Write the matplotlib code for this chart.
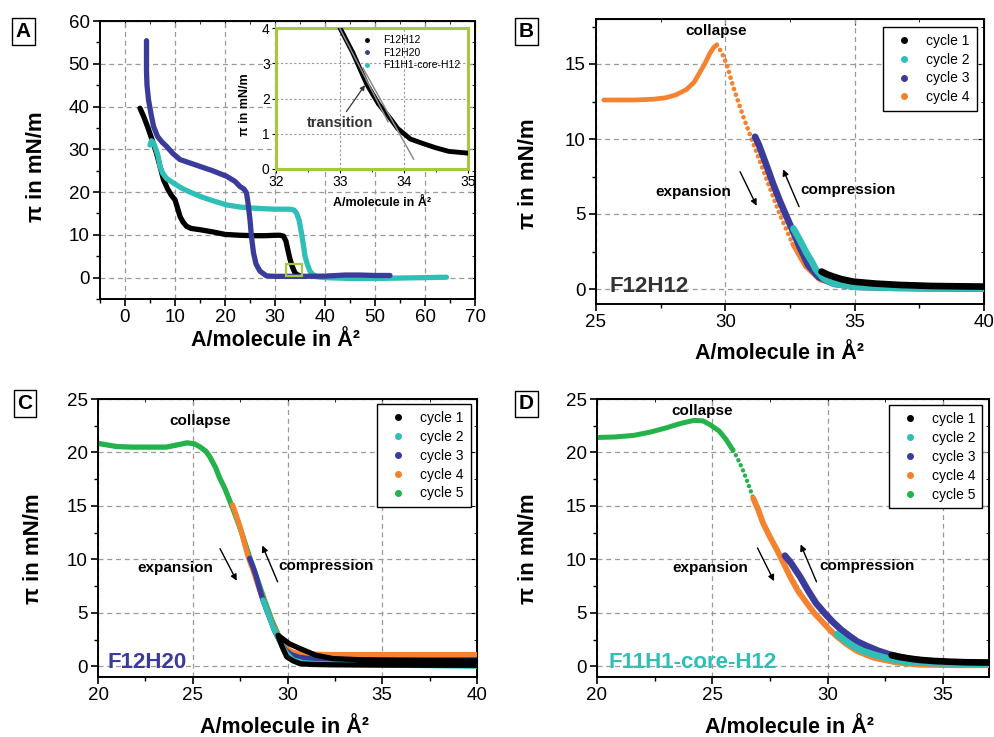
import numpy as np
import matplotlib
matplotlib.use("Agg")
import matplotlib.pyplot as plt
from matplotlib.lines import Line2D
from matplotlib.patches import Rectangle
from matplotlib.ticker import MultipleLocator

plt.rcParams['font.family'] = ['Liberation Sans', 'DejaVu Sans']

BLACK = '#000000'
TURQ = '#2fbfb7'
BLUE = '#3b3b9b'
ORANGE = '#f5822f'
GREEN = '#24b24b'
FRAME = '#a4c93c'

# ---- panel A: isotherms of the three compounds ----
a_f12h12_x = [3.0, 3.8, 4.6, 5.4, 6.3, 7.0, 7.7, 8.5, 9.3, 10.0, 10.5, 11.0, 11.6, 12.3, 13.2, 15.0,
              17.5, 20.0, 23.0, 26.0, 28.0, 30.0, 31.0, 31.7, 32.2, 32.7, 33.0, 33.4, 33.7, 34.0,
              34.3, 34.7, 35.0]
a_f12h12_y = [39.6, 37.5, 35.0, 32.3, 29.1, 26.0, 22.9, 20.8, 19.2, 18.2, 16.3, 14.3, 13.0, 12.0, 11.5,
              11.2, 10.7, 10.1, 9.9, 9.8, 9.8, 9.9, 9.9, 9.7, 8.5, 5.8, 4.3, 2.8, 1.9, 1.1, 0.8, 0.55, 0.45]
a_f12h20_x = [4.3, 4.3, 4.4, 4.7, 5.2, 5.7, 6.5, 7.4, 8.3, 9.6, 11.0, 13.0, 15.0, 17.5, 20.3, 22.0,
              23.0, 23.8, 24.3, 24.6, 25.0, 25.3, 25.7, 26.2, 27.0, 28.3, 30.0, 35.0, 40.0, 44.0,
              47.0, 50.0, 53.0]
a_f12h20_y = [55.4, 48.2, 45.0, 41.6, 38.3, 35.4, 33.0, 31.7, 30.7, 29.0, 27.6, 26.8, 26.0, 25.0, 23.7,
              22.5, 21.3, 20.7, 19.8, 17.5, 13.5, 9.5, 5.8, 3.2, 1.5, 0.4, 0.3, 0.3, 0.35, 0.6, 0.6,
              0.5, 0.5]
a_core_x = [5.0, 5.3, 5.7, 6.2, 6.6, 7.0, 7.5, 8.3, 9.7, 11.5, 13.0, 15.0, 17.5, 20.3, 23.0, 25.0,
            28.0, 30.0, 33.0, 33.8, 34.3, 34.8, 35.3, 35.7, 36.0, 36.5, 37.0, 37.6, 38.3, 40.0,
            45.0, 50.0, 55.0, 60.0, 64.3]
a_core_y = [31.0, 32.0, 31.5, 30.0, 28.5, 26.0, 24.5, 23.2, 22.1, 20.8, 20.0, 19.0, 18.0, 17.0, 16.5,
            16.3, 16.1, 16.0, 16.0, 15.8, 15.1, 13.5, 10.4, 7.5, 5.0, 3.0, 1.5, 0.7, 0.2, 0.0,
            -0.2, -0.2, -0.1, 0.0, 0.1]

# inset: zoom on the F12H12 kink
in_x = [33.0, 33.2, 33.42, 33.6, 33.8, 33.9, 34.0, 34.1, 34.3, 34.5, 34.7, 35.0]
in_y = [4.0, 3.3, 2.4, 1.85, 1.4, 1.15, 1.0, 0.85, 0.72, 0.6, 0.5, 0.45]
tan1_x = [33.0, 33.75]
tan1_y = [3.98, 1.34]
tan2_x = [33.36, 34.15]
tan2_y = [2.86, 0.28]

# ---- panel B: F12H12 cycles ----
b_c4_x = [25.3, 25.8, 26.5, 27.2, 27.7, 28.1, 28.5, 28.8, 29.0, 29.2, 29.4, 29.55, 29.67,
          29.85, 30.05, 30.3, 30.69, 31.08, 31.6, 32.1, 32.6, 33.1, 33.66, 34.3, 35.0, 36.5, 38.0, 40.0]
b_c4_y = [12.6, 12.6, 12.6, 12.65, 12.75, 12.95, 13.3, 13.8, 14.4, 15.0, 15.7, 16.1, 16.27,
          15.8, 15.0, 13.5, 11.5, 9.7, 7.3, 5.0, 3.0, 1.5, 0.6, 0.3, 0.15, 0.08, 0.05, 0.03]
b_c3_x = [31.15, 31.3, 31.6, 31.85, 32.1, 32.35, 32.6, 32.9, 33.2, 33.6, 34.2, 35.0, 36.5, 38.0, 40.0]
b_c3_y = [10.15, 9.6, 8.2, 7.0, 5.9, 4.9, 3.9, 2.7, 1.6, 0.8, 0.35, 0.15, 0.08, 0.05, 0.03]
b_c2_x = [32.63, 32.9, 33.14, 33.35, 33.5, 33.8, 34.2, 35.0, 36.5, 38.0, 40.0]
b_c2_y = [4.04, 3.2, 2.4, 1.8, 1.3, 0.7, 0.35, 0.15, 0.08, 0.05, 0.03]
b_c1_x = [33.72, 33.9, 34.17, 34.5, 34.95, 35.8, 36.75, 38.0, 40.0]
b_c1_y = [1.16, 1.0, 0.83, 0.65, 0.49, 0.36, 0.27, 0.2, 0.16]

# ---- panel C: F12H20 cycles ----
c_c5_x = [20.0, 20.5, 21.0, 21.8, 22.5, 23.6, 24.3, 24.7, 25.1, 25.4, 25.7, 25.9, 26.2, 26.4, 26.7,
          26.97, 27.3, 27.6, 28.0, 28.4, 28.8, 29.2, 29.6, 30.0, 30.4, 31.0, 32.0, 34.0, 37.0, 40.0]
c_c5_y = [20.85, 20.7, 20.55, 20.5, 20.5, 20.5, 20.75, 20.9, 20.8, 20.5, 20.1, 19.6, 18.6, 17.7, 16.6,
          15.4, 13.9, 12.4, 10.2, 8.2, 6.1, 4.2, 2.6, 1.5, 1.1, 0.95, 0.88, 0.85, 0.85, 0.85]
c_c4_x = [27.1, 27.3, 27.5, 27.7, 27.93, 28.2, 28.5, 28.8, 29.1, 29.4, 29.7, 30.0, 30.3, 30.7,
          31.2, 32.0, 34.0, 37.0, 40.0]
c_c4_y = [15.1, 14.1, 13.0, 11.7, 10.2, 8.9, 7.3, 5.8, 4.5, 3.2, 2.2, 1.6, 1.3, 1.2, 1.15, 1.1,
          1.1, 1.1, 1.1]
c_c3_x = [28.0, 28.2, 28.35, 28.5, 28.7, 29.0, 29.3, 29.6, 29.9, 30.2, 30.6, 31.2, 32.0, 34.0, 37.0, 40.0]
c_c3_y = [10.1, 9.2, 8.4, 7.4, 6.2, 4.8, 3.4, 2.3, 1.5, 1.1, 0.85, 0.7, 0.62, 0.6, 0.6, 0.6]
c_c2_x = [28.7, 28.9, 29.05, 29.2, 29.4, 29.7, 29.96, 30.3, 30.8, 31.5, 33.0, 36.0, 40.0]
c_c2_y = [6.2, 5.3, 4.6, 3.8, 3.1, 2.0, 1.2, 0.6, 0.35, 0.25, 0.2, 0.1, 0.0]
c_c1_x = [40.0, 36.0, 34.0, 32.4, 31.5, 30.66, 30.1, 29.5, 29.7, 29.96, 30.3, 30.66, 31.2, 32.4,
          34.0, 37.0, 40.0]
c_c1_y = [0.5, 0.55, 0.6, 0.72, 1.03, 1.66, 2.1, 2.9, 1.9, 0.88, 0.5, 0.25, 0.18, 0.14, 0.12,
          0.1, 0.1]

# ---- panel D: F11H1-core-H12 cycles ----
d_c5_x = [20.0, 20.8, 21.6, 22.3, 23.0, 23.6, 24.2, 24.6, 24.9, 25.3, 25.6, 25.9, 26.06, 26.3,
          26.5, 26.78, 27.2, 27.8, 28.4, 29.1, 29.8, 30.5, 31.3, 32.2, 33.5, 35.0, 37.0]
d_c5_y = [21.4, 21.45, 21.6, 21.9, 22.3, 22.7, 23.0, 22.95, 22.6, 22.0, 21.2, 20.2, 19.6, 18.5,
          17.4, 15.7, 13.4, 10.9, 8.4, 5.9, 4.0, 2.7, 1.7, 1.0, 0.5, 0.3, 0.25]
d_c4_x = [26.78, 27.0, 27.2, 27.5, 27.8, 28.1, 28.37, 28.7, 29.1, 29.45, 29.8, 30.1, 30.4, 30.8,
          31.3, 32.0, 33.0, 34.0, 35.5, 37.0]
d_c4_y = [15.7, 14.6, 13.4, 12.1, 10.9, 9.6, 8.4, 7.1, 5.9, 4.9, 4.1, 3.4, 2.8, 2.1, 1.4, 0.8,
          0.35, 0.15, 0.1, 0.1]
d_c3_x = [28.15, 28.4, 28.8, 29.15, 29.5, 29.9, 30.25, 30.6, 30.97, 31.3, 31.7, 32.2, 32.7, 33.5,
          34.5, 35.5, 37.0]
d_c3_y = [10.35, 9.7, 8.4, 7.1, 5.9, 4.9, 4.1, 3.4, 2.8, 2.3, 1.9, 1.45, 1.1, 0.7, 0.45, 0.35, 0.3]
d_c2_x = [30.4, 30.75, 31.1, 31.5, 32.0, 32.5, 33.1, 33.8, 34.6, 35.5, 37.0]
d_c2_y = [3.0, 2.4, 1.9, 1.45, 1.1, 0.8, 0.5, 0.38, 0.3, 0.25, 0.2]
d_c1_x = [32.78, 33.1, 33.57, 34.0, 34.6, 35.3, 36.0, 37.0]
d_c1_y = [1.03, 0.88, 0.72, 0.6, 0.5, 0.43, 0.38, 0.35]

DOTS = (0, (0.01, 1.25))
XLAB = 'A/molecule in Å²'
YLAB = 'π in mN/m'
NOTE = 11


def px_axes(left, top, right, bottom):
    W, H = 995.0, 737.0
    return [left / W, 1 - bottom / H, (right - left) / W, (bottom - top) / H]


def style_axes(ax, xmaj, ymaj, fs=13.5):
    ax.xaxis.set_major_locator(MultipleLocator(xmaj))
    ax.xaxis.set_minor_locator(MultipleLocator(xmaj / 2))
    ax.yaxis.set_major_locator(MultipleLocator(ymaj))
    ax.yaxis.set_minor_locator(MultipleLocator(ymaj / 2))
    ax.tick_params(which='major', direction='out', length=5, width=1.2, labelsize=fs, pad=2.5)
    ax.tick_params(which='minor', direction='out', length=3, width=1.0)
    for s in ax.spines.values():
        s.set_linewidth(1.4)
    ax.grid(True, which='major', color='#9a9a9a', lw=0.9, linestyle=(0, (4, 3)))
    ax.set_axisbelow(True)
    # mirrored inward ticks on top and right
    top = ax.secondary_xaxis('top')
    top.xaxis.set_major_locator(MultipleLocator(xmaj))
    top.xaxis.set_minor_locator(MultipleLocator(xmaj / 2))
    top.tick_params(which='major', direction='in', length=4, labeltop=False)
    top.tick_params(which='minor', direction='in', length=2.5)
    right = ax.secondary_yaxis('right')
    right.yaxis.set_major_locator(MultipleLocator(ymaj))
    right.yaxis.set_minor_locator(MultipleLocator(ymaj / 2))
    right.tick_params(which='major', direction='in', length=4, labelright=False)
    right.tick_params(which='minor', direction='in', length=2.5)


def labels(ax, xl, yl):
    ax.set_xlabel(XLAB, fontsize=15.5, fontweight='bold')
    ax.set_ylabel(YLAB, fontsize=16, fontweight='bold')
    ax.xaxis.set_label_coords(*xl)
    ax.yaxis.set_label_coords(*yl)
    ax.xaxis.label.set_verticalalignment('center')
    ax.yaxis.label.set_verticalalignment('center')


def cycle_legend(ax, n, anchor):
    cols = [BLACK, TURQ, BLUE, ORANGE, GREEN][:n]
    hs = [Line2D([], [], color=c, marker='o', ms=4, ls='none') for c in cols]
    leg = ax.legend(hs, ['cycle %d' % (i + 1) for i in range(n)], loc='upper right',
                    bbox_to_anchor=anchor, fontsize=10, frameon=True, fancybox=False,
                    edgecolor='black', framealpha=1, borderpad=0.5, labelspacing=0.35,
                    handlelength=2.0, handletextpad=0.6, borderaxespad=0)
    leg.get_frame().set_linewidth(1.0)


def notes(ax, collapse, expansion, compression):
    for s, (x, y) in [('collapse', collapse), ('expansion', expansion),
                      ('compression', compression)]:
        ax.text(x, y, s, fontsize=NOTE, fontweight='bold', ha='center', va='center')


def arrows(ax, e0, e1, c0, c1):
    for a, b in [(e0, e1), (c0, c1)]:
        ax.annotate('', xy=b, xytext=a,
                    arrowprops=dict(arrowstyle='-|>', color='k', lw=1.0, mutation_scale=9,
                                    shrinkA=0, shrinkB=0))


fig = plt.figure(figsize=(9.95, 7.37), dpi=100)

# ---------- A ----------
axA = fig.add_axes(px_axes(100, 21, 475, 299))
axA.plot(a_f12h12_x, a_f12h12_y, color=BLACK, lw=3.8, solid_capstyle='round', zorder=3)
axA.plot(a_core_x, a_core_y, color=TURQ, lw=3.8, solid_capstyle='round', zorder=4)
axA.plot(a_f12h20_x, a_f12h20_y, color=BLUE, lw=3.8, solid_capstyle='round', zorder=5)
axA.add_patch(Rectangle((32.2, 0.3), 3.2, 2.9, fill=False, ec=FRAME, lw=1.6, zorder=6))
axA.set_xlim(-5, 70)
axA.set_ylim(-5, 60)
style_axes(axA, 10, 10)
labels(axA, (0.467, -0.148), (-0.168, 0.475))

ins = fig.add_axes(px_axes(276, 28, 468, 169))
ins.plot(in_x, in_y, color=BLACK, lw=3.5, solid_capstyle='round', zorder=3)
ins.plot(tan1_x, tan1_y, color='#8c8c8c', lw=1.1, zorder=4)
ins.plot(tan2_x, tan2_y, color='#8c8c8c', lw=1.1, zorder=4)
ins.set_xlim(32, 35)
ins.set_ylim(0, 4)
ins.xaxis.set_major_locator(MultipleLocator(1))
ins.xaxis.set_minor_locator(MultipleLocator(0.5))
ins.yaxis.set_major_locator(MultipleLocator(1))
ins.tick_params(which='major', direction='out', length=3, labelsize=10, pad=1.5)
ins.tick_params(which='minor', direction='out', length=2)
ins.grid(True, which='major', color='#9a9a9a', lw=0.8, linestyle=(0, (2, 2)))
for s in ins.spines.values():
    s.set_color(FRAME)
    s.set_linewidth(2.2)
ins.set_xlabel(XLAB, fontsize=9, fontweight='bold')
ins.set_ylabel(YLAB, fontsize=9, fontweight='bold')
ins.xaxis.set_label_coords(0.552, -0.241)
ins.yaxis.set_label_coords(-0.161, 0.454)
ins.xaxis.label.set_verticalalignment('center')
ins.yaxis.label.set_verticalalignment('center')
ins.text(33.0, 1.3, 'transition', fontsize=10.5, fontweight='bold', color='#333333',
         ha='center', va='center')
ins.annotate('', xy=(33.39, 2.38), xytext=(33.1, 1.63),
             arrowprops=dict(arrowstyle='-|>', color='#333333', lw=0.9, mutation_scale=7,
                             shrinkA=0, shrinkB=0))
hA = [Line2D([], [], color=c, marker='o', ms=2.5, ls='none') for c in (BLACK, BLUE, TURQ)]
ins.legend(hA, ['F12H12', 'F12H20', 'F11H1-core-H12'], loc='upper right', fontsize=7.5,
           frameon=False, handlelength=1.5, handletextpad=0.8, labelspacing=0.25,
           borderaxespad=0.3)

# ---------- B ----------
axB = fig.add_axes(px_axes(596, 19, 984, 304))
axB.plot(b_c4_x[:13], b_c4_y[:13], color=ORANGE, lw=3.4, solid_capstyle='round', zorder=2)
axB.plot(b_c4_x[12:21], b_c4_y[12:21], color=ORANGE, lw=3.4, ls=DOTS,
         dash_capstyle='round', zorder=2)
axB.plot(b_c4_x[20:], b_c4_y[20:], color=ORANGE, lw=3.4, solid_capstyle='round', zorder=2)
axB.plot(b_c3_x, b_c3_y, color=BLUE, lw=4.8, solid_capstyle='round', zorder=3)
axB.plot(b_c2_x, b_c2_y, color=TURQ, lw=4.8, solid_capstyle='round', zorder=4)
axB.plot(b_c1_x, b_c1_y, color=BLACK, lw=4.8, solid_capstyle='round', zorder=5)
axB.set_xlim(25, 40)
axB.set_ylim(-1, 18)
style_axes(axB, 5, 5)
labels(axB, (0.474, -0.175), (-0.175, 0.456))
notes(axB, (29.66, 17.2), (28.76, 6.45), (34.75, 6.6))
arrows(axB, (30.57, 7.82), (31.21, 5.55), (32.85, 5.49), (32.23, 7.98))
axB.text(25.52, 0.2, 'F12H12', fontsize=16, fontweight='bold', color='#333333',
         ha='left', va='center', zorder=6)
cycle_legend(axB, 4, (0.982, 0.973))

# ---------- C ----------
axC = fig.add_axes(px_axes(98, 399, 477, 677))
axC.plot(c_c5_x, c_c5_y, color=GREEN, lw=3.8, solid_capstyle='round', zorder=2)
axC.plot(c_c4_x, c_c4_y, color=ORANGE, lw=3.8, solid_capstyle='round', zorder=3)
axC.plot(c_c3_x, c_c3_y, color=BLUE, lw=3.8, solid_capstyle='round', zorder=4)
axC.plot(c_c2_x, c_c2_y, color=TURQ, lw=3.8, solid_capstyle='round', zorder=5)
axC.plot(c_c1_x, c_c1_y, color=BLACK, lw=3.8, solid_capstyle='round', zorder=6)
axC.set_xlim(20, 40)
axC.set_ylim(-1, 25)
style_axes(axC, 5, 5)
labels(axC, (0.493, -0.18), (-0.171, 0.46))
notes(axC, (25.4, 22.9), (24.06, 9.2), (32.03, 9.4))
arrows(axC, (26.44, 11.0), (27.32, 8.0), (29.48, 7.9), (28.67, 11.3))
axC.text(20.5, 0.35, 'F12H20', fontsize=16, fontweight='bold', color=BLUE,
         ha='left', va='center', zorder=7)
cycle_legend(axC, 5, (0.983, 0.982))

# ---------- D ----------
axD = fig.add_axes(px_axes(597, 399, 989, 677))
axD.plot(d_c5_x[:12], d_c5_y[:12], color=GREEN, lw=3.6, solid_capstyle='round', zorder=2)
axD.plot(d_c5_x[11:], d_c5_y[11:], color=GREEN, lw=3.2, ls=DOTS, dash_capstyle='round', zorder=2)
axD.plot(d_c4_x, d_c4_y, color=ORANGE, lw=4.2, solid_capstyle='round', zorder=3)
axD.plot(d_c3_x, d_c3_y, color=BLUE, lw=4.8, solid_capstyle='round', zorder=4)
axD.plot(d_c2_x, d_c2_y, color=TURQ, lw=4.8, solid_capstyle='round', zorder=5)
axD.plot(d_c1_x, d_c1_y, color=BLACK, lw=4.8, solid_capstyle='round', zorder=6)
axD.set_xlim(20, 37)
axD.set_ylim(-1, 25)
style_axes(axD, 5, 5)
labels(axD, (0.492, -0.18), (-0.176, 0.46))
notes(axD, (24.57, 23.9), (24.9, 9.2), (31.7, 9.4))
arrows(axD, (26.96, 11.07), (27.68, 7.96), (29.52, 7.9), (28.83, 11.4))
axD.text(20.5, 0.4, 'F11H1-core-H12', fontsize=16, fontweight='bold', color=TURQ,
         ha='left', va='center', zorder=7)
cycle_legend(axD, 5, (0.983, 0.978))

# panel letters
for letter, (x, y) in zip('ABCD', [(23.5, 31.5), (526.5, 31.5), (25, 403.5), (526.5, 404)]):
    fig.text(x / 995, 1 - y / 737, letter, fontsize=15, fontweight='bold', ha='center',
             va='center', bbox=dict(boxstyle='square,pad=0.18', fc='white', ec='black', lw=1.0))

fig.savefig('out.png', dpi=100)
